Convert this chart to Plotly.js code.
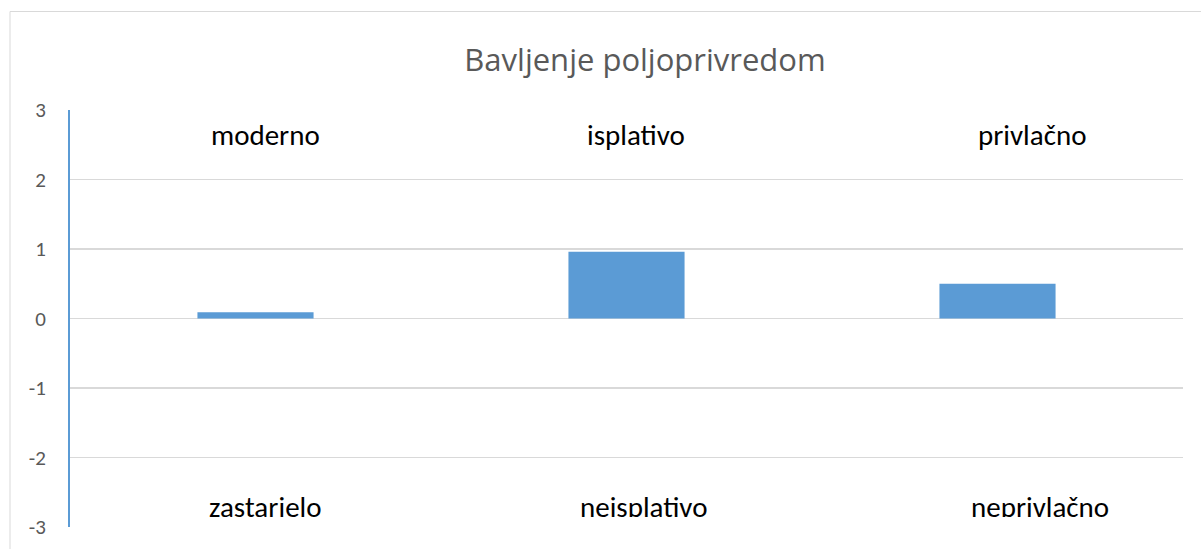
<!DOCTYPE html>
<html>
<head>
<meta charset="utf-8">
<script src="https://cdn.plot.ly/plotly-3.0.1.min.js"></script>
<style>
html,body{margin:0;padding:0;background:#fff;}
#chart{width:1201px;height:549px;}
</style>
</head>
<body>
<div id="chart"></div>
<script>
const chartTitle = "Bavljenje poljoprivredom";
const categories = ["moderno / zastarjelo", "isplativo / neisplativo", "privlačno / neprivlačno"];
const values = [0.09, 0.96, 0.50];
const topLabels = ["moderno", "isplativo", "privlačno"];
const bottomLabels = ["zastarjelo", "neisplativo", "neprivlačno"];
const yTicks = [-3, -2, -1, 0, 1, 2, 3];

const FONT = "Carlito, Calibri, Lato, 'Noto Sans', sans-serif";
const TITLE_FONT = "'Open Sans', 'Noto Sans', sans-serif";

const L = 70, R = 1183, T = 110, B = 527, W = 1201, H = 549;
const px = x => (x - L) / (R - L);
const py = y => (B - y) / (B - T);

const topX = [265, 636, 1032];
const botX = [265, 643, 1040];

const annotations = [];
topLabels.forEach((t, i) => {
  annotations.push({
    text: t, xref: "paper", yref: "paper", x: px(topX[i]), y: py(135),
    xanchor: "center", yanchor: "middle", showarrow: false,
    font: {family: FONT, size: 29, color: "#000000"}
  });
});
bottomLabels.forEach((t, i) => {
  annotations.push({
    text: t, xref: "paper", yref: "paper", x: px(botX[i]), y: py(488),
    xanchor: "center", yanchor: "top", showarrow: false,
    height: 28, valign: "top", borderpad: 0,
    font: {family: FONT, size: 29, color: "#000000"}
  });
});

const data = [{
  type: "bar",
  x: categories,
  y: values,
  marker: {color: "#5b9bd5"},
  hoverinfo: "y"
}];

const layout = {
  width: W, height: H,
  margin: {l: L, r: W - R, t: T, b: H - B, pad: 0},
  paper_bgcolor: "#ffffff",
  plot_bgcolor: "#ffffff",
  showlegend: false,
  bargap: 0.687,
  title: {
    text: chartTitle,
    font: {family: TITLE_FONT, size: 31, color: "#595959"},
    xref: "paper", x: px(645), xanchor: "center",
    yref: "container", y: 1 - 60 / H, yanchor: "middle"
  },
  xaxis: {
    type: "category",
    showticklabels: false, showgrid: false, zeroline: false, showline: false,
    ticks: ""
  },
  yaxis: {
    range: [-3, 3],
    tickvals: yTicks,
    ticktext: yTicks.map(String),
    showgrid: true, gridcolor: "#d9d9d9", gridwidth: 1.5,
    zeroline: false,
    showline: true, linecolor: "#5b9bd5", linewidth: 2,
    ticks: "",
    ticklabelstandoff: 18,
    tickfont: {family: FONT, size: 21, color: "#595959"}
  },
  annotations: annotations,
  shapes: [
    {type: "line", xref: "paper", yref: "paper", x0: px(10), x1: px(1201), y0: py(11.5), y1: py(11.5),
     line: {color: "#d9d9d9", width: 1}},
    {type: "line", xref: "paper", yref: "paper", x0: px(10), x1: px(10), y0: py(11.5), y1: py(549),
     line: {color: "#d9d9d9", width: 1}}
  ]
};

Plotly.newPlot("chart", data, layout, {displayModeBar: false, staticPlot: true});
</script>
</body>
</html>
